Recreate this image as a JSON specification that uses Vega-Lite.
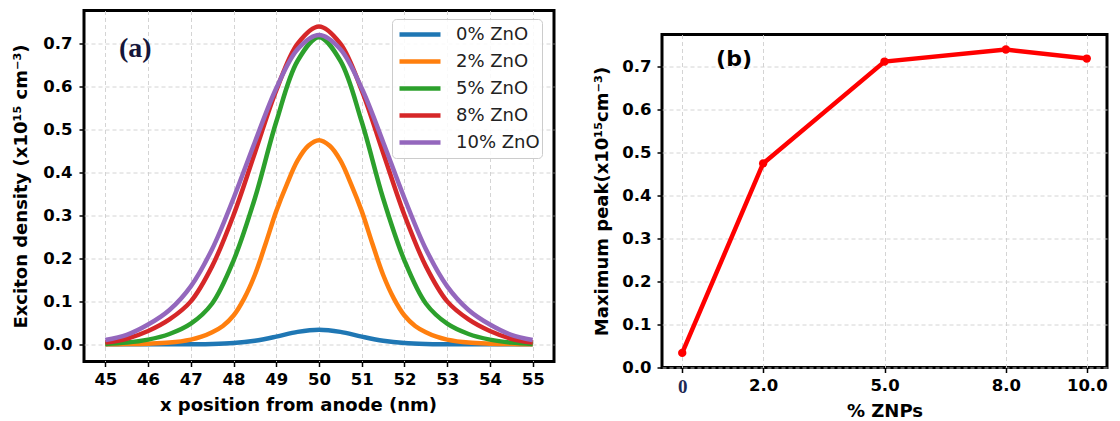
{
  "$schema": "https://vega.github.io/schema/vega-lite/v6.json",
  "background": "white",
  "padding": {"left": 11, "top": 8.5, "right": 10, "bottom": 5},
  "spacing": 36,
  "config": {
    "font": "DejaVu Sans",
    "view": {"stroke": "black", "strokeWidth": 3},
    "axis": {
      "domain": false,
      "ticks": true,
      "tickColor": "black",
      "tickWidth": 1.5,
      "tickSize": 5,
      "labelFont": "DejaVu Sans",
      "labelFontWeight": "bold",
      "labelFontSize": 16.5,
      "labelColor": "black",
      "labelPadding": 5,
      "labelFlush": false,
      "labelOverlap": false,
      "titleFont": "DejaVu Sans",
      "titleFontWeight": "bold",
      "titleFontSize": 18,
      "titleColor": "black",
      "grid": true,
      "gridColor": "#cfcfcf",
      "gridDash": [4, 3],
      "gridWidth": 0.9
    }
  },
  "datasets": {
    "profiles": [
      {"x": 45, "s": "0% ZnO", "y": 0}, {"x": 45.5, "s": "0% ZnO", "y": 0}, {"x": 46, "s": "0% ZnO", "y": 0}, {"x": 46.5, "s": "0% ZnO", "y": 0},
      {"x": 47, "s": "0% ZnO", "y": 0.0002}, {"x": 47.5, "s": "0% ZnO", "y": 0.0008}, {"x": 48, "s": "0% ZnO", "y": 0.003}, {"x": 48.5, "s": "0% ZnO", "y": 0.0085},
      {"x": 49, "s": "0% ZnO", "y": 0.018}, {"x": 49.5, "s": "0% ZnO", "y": 0.029}, {"x": 50, "s": "0% ZnO", "y": 0.034}, {"x": 50.5, "s": "0% ZnO", "y": 0.029},
      {"x": 51, "s": "0% ZnO", "y": 0.018}, {"x": 51.5, "s": "0% ZnO", "y": 0.0085}, {"x": 52, "s": "0% ZnO", "y": 0.003}, {"x": 52.5, "s": "0% ZnO", "y": 0.0008},
      {"x": 53, "s": "0% ZnO", "y": 0.0002}, {"x": 53.5, "s": "0% ZnO", "y": 0}, {"x": 54, "s": "0% ZnO", "y": 0}, {"x": 54.5, "s": "0% ZnO", "y": 0}, {"x": 55, "s": "0% ZnO", "y": 0},

      {"x": 45, "s": "2% ZnO", "y": 0.0001}, {"x": 45.5, "s": "2% ZnO", "y": 0.0005}, {"x": 46, "s": "2% ZnO", "y": 0.0015}, {"x": 46.5, "s": "2% ZnO", "y": 0.004},
      {"x": 47, "s": "2% ZnO", "y": 0.011}, {"x": 47.25, "s": "2% ZnO", "y": 0.0177}, {"x": 47.5, "s": "2% ZnO", "y": 0.028}, {"x": 47.75, "s": "2% ZnO", "y": 0.0427},
      {"x": 48, "s": "2% ZnO", "y": 0.067}, {"x": 48.25, "s": "2% ZnO", "y": 0.107}, {"x": 48.5, "s": "2% ZnO", "y": 0.162}, {"x": 48.75, "s": "2% ZnO", "y": 0.234},
      {"x": 49, "s": "2% ZnO", "y": 0.31}, {"x": 49.25, "s": "2% ZnO", "y": 0.373}, {"x": 49.5, "s": "2% ZnO", "y": 0.428}, {"x": 49.75, "s": "2% ZnO", "y": 0.462},
      {"x": 50, "s": "2% ZnO", "y": 0.475},
      {"x": 50.25, "s": "2% ZnO", "y": 0.462}, {"x": 50.5, "s": "2% ZnO", "y": 0.428}, {"x": 50.75, "s": "2% ZnO", "y": 0.373}, {"x": 51, "s": "2% ZnO", "y": 0.31},
      {"x": 51.25, "s": "2% ZnO", "y": 0.234}, {"x": 51.5, "s": "2% ZnO", "y": 0.162}, {"x": 51.75, "s": "2% ZnO", "y": 0.107}, {"x": 52, "s": "2% ZnO", "y": 0.067},
      {"x": 52.25, "s": "2% ZnO", "y": 0.0427}, {"x": 52.5, "s": "2% ZnO", "y": 0.028}, {"x": 52.75, "s": "2% ZnO", "y": 0.0177}, {"x": 53, "s": "2% ZnO", "y": 0.011},
      {"x": 53.5, "s": "2% ZnO", "y": 0.004}, {"x": 54, "s": "2% ZnO", "y": 0.0015}, {"x": 54.5, "s": "2% ZnO", "y": 0.0005}, {"x": 55, "s": "2% ZnO", "y": 0.0001},

      {"x": 45, "s": "5% ZnO", "y": 0.001}, {"x": 45.5, "s": "5% ZnO", "y": 0.004}, {"x": 46, "s": "5% ZnO", "y": 0.011}, {"x": 46.5, "s": "5% ZnO", "y": 0.024},
      {"x": 47, "s": "5% ZnO", "y": 0.048}, {"x": 47.5, "s": "5% ZnO", "y": 0.095}, {"x": 48, "s": "5% ZnO", "y": 0.195}, {"x": 48.5, "s": "5% ZnO", "y": 0.34},
      {"x": 49, "s": "5% ZnO", "y": 0.518}, {"x": 49.5, "s": "5% ZnO", "y": 0.66}, {"x": 50, "s": "5% ZnO", "y": 0.715}, {"x": 50.5, "s": "5% ZnO", "y": 0.66},
      {"x": 51, "s": "5% ZnO", "y": 0.518}, {"x": 51.5, "s": "5% ZnO", "y": 0.34}, {"x": 52, "s": "5% ZnO", "y": 0.195}, {"x": 52.5, "s": "5% ZnO", "y": 0.095},
      {"x": 53, "s": "5% ZnO", "y": 0.048}, {"x": 53.5, "s": "5% ZnO", "y": 0.024}, {"x": 54, "s": "5% ZnO", "y": 0.011}, {"x": 54.5, "s": "5% ZnO", "y": 0.004}, {"x": 55, "s": "5% ZnO", "y": 0.001},

      {"x": 45, "s": "8% ZnO", "y": 0.004}, {"x": 45.5, "s": "8% ZnO", "y": 0.013}, {"x": 46, "s": "8% ZnO", "y": 0.031}, {"x": 46.5, "s": "8% ZnO", "y": 0.058},
      {"x": 47, "s": "8% ZnO", "y": 0.1}, {"x": 47.5, "s": "8% ZnO", "y": 0.182}, {"x": 48, "s": "8% ZnO", "y": 0.301}, {"x": 48.5, "s": "8% ZnO", "y": 0.446},
      {"x": 49, "s": "8% ZnO", "y": 0.591}, {"x": 49.5, "s": "8% ZnO", "y": 0.7}, {"x": 50, "s": "8% ZnO", "y": 0.74}, {"x": 50.5, "s": "8% ZnO", "y": 0.7},
      {"x": 51, "s": "8% ZnO", "y": 0.591}, {"x": 51.5, "s": "8% ZnO", "y": 0.446}, {"x": 52, "s": "8% ZnO", "y": 0.301}, {"x": 52.5, "s": "8% ZnO", "y": 0.182},
      {"x": 53, "s": "8% ZnO", "y": 0.1}, {"x": 53.5, "s": "8% ZnO", "y": 0.058}, {"x": 54, "s": "8% ZnO", "y": 0.031}, {"x": 54.5, "s": "8% ZnO", "y": 0.013}, {"x": 55, "s": "8% ZnO", "y": 0.004},

      {"x": 45, "s": "10% ZnO", "y": 0.01}, {"x": 45.5, "s": "10% ZnO", "y": 0.022}, {"x": 46, "s": "10% ZnO", "y": 0.046}, {"x": 46.5, "s": "10% ZnO", "y": 0.08},
      {"x": 47, "s": "10% ZnO", "y": 0.135}, {"x": 47.5, "s": "10% ZnO", "y": 0.222}, {"x": 48, "s": "10% ZnO", "y": 0.34}, {"x": 48.5, "s": "10% ZnO", "y": 0.471},
      {"x": 49, "s": "10% ZnO", "y": 0.596}, {"x": 49.5, "s": "10% ZnO", "y": 0.687}, {"x": 50, "s": "10% ZnO", "y": 0.72}, {"x": 50.5, "s": "10% ZnO", "y": 0.687},
      {"x": 51, "s": "10% ZnO", "y": 0.596}, {"x": 51.5, "s": "10% ZnO", "y": 0.471}, {"x": 52, "s": "10% ZnO", "y": 0.34}, {"x": 52.5, "s": "10% ZnO", "y": 0.222},
      {"x": 53, "s": "10% ZnO", "y": 0.135}, {"x": 53.5, "s": "10% ZnO", "y": 0.08}, {"x": 54, "s": "10% ZnO", "y": 0.046}, {"x": 54.5, "s": "10% ZnO", "y": 0.022}, {"x": 55, "s": "10% ZnO", "y": 0.01}
    ],
    "peaks": [
      {"zno": 0, "peak": 0.034},
      {"zno": 2, "peak": 0.475},
      {"zno": 5, "peak": 0.712},
      {"zno": 8, "peak": 0.74},
      {"zno": 10, "peak": 0.719}
    ],
    "tagA": [{"x": 45.7, "y": 0.688, "t": "(a)"}],
    "tagB": [{"zno": 1.28, "peak": 0.719, "t": "(b)"}]
  },
  "hconcat": [
    {
      "width": 470,
      "height": 351,
      "layer": [
        {
          "data": {"name": "profiles"},
          "mark": {"type": "line", "strokeWidth": 4.5, "interpolate": "catmull-rom"},
          "encoding": {
            "x": {
              "field": "x", "type": "quantitative",
              "scale": {"domain": [44.5, 55.5], "nice": false, "zero": false},
              "axis": {
                "values": [45, 46, 47, 48, 49, 50, 51, 52, 53, 54, 55],
                "title": "x position from anode (nm)",
                "titleX": 214,
                "titlePadding": 8
              }
            },
            "y": {
              "field": "y", "type": "quantitative",
              "scale": {"domain": [-0.04, 0.777], "nice": false, "zero": false},
              "axis": {
                "values": [0, 0.1, 0.2, 0.3, 0.4, 0.5, 0.6, 0.7],
                "format": ".1f",
                "title": "Exciton density (x10¹⁵ cm⁻³)",
                "labelPadding": 7,
                "titlePadding": 12
              }
            },
            "color": {
              "field": "s", "type": "nominal",
              "scale": {
                "domain": ["0% ZnO", "2% ZnO", "5% ZnO", "8% ZnO", "10% ZnO"],
                "range": ["#1f77b4", "#ff7f0e", "#2ca02c", "#d62728", "#9467bd"]
              },
              "legend": {
                "title": null,
                "orient": "none",
                "legendX": 308,
                "legendY": 8.5,
                "symbolType": "stroke",
                "symbolSize": 1681,
                "symbolStrokeWidth": 4.5,
                "symbolOffset": 3,
                "clipHeight": 27,
                "labelFont": "DejaVu Sans",
                "labelFontSize": 18,
                "labelColor": "#222222",
                "labelOffset": 13,
                "labelLimit": 300,
                "rowPadding": 0,
                "padding": 2,
                "fillColor": "rgba(255,255,255,0.85)",
                "strokeColor": "#cccccc",
                "cornerRadius": 4
              }
            }
          }
        },
        {
          "data": {"name": "tagA"},
          "mark": {"type": "text", "font": "Liberation Serif", "fontWeight": "bold", "fontSize": 28, "color": "#15163a"},
          "encoding": {
            "x": {"field": "x", "type": "quantitative"},
            "y": {"field": "y", "type": "quantitative"},
            "text": {"field": "t"}
          }
        }
      ]
    },
    {
      "spacing": 20,
      "vconcat": [
        {
          "width": 445,
          "height": 2,
          "view": {"stroke": null},
          "data": {"values": []},
          "mark": {"type": "point", "opacity": 0}
        },
        {
          "width": 445,
          "height": 333,
          "layer": [
            {
              "data": {"name": "peaks"},
              "mark": {
                "type": "line", "color": "#ff0000", "strokeWidth": 4.5,
                "point": {"filled": true, "size": 70, "color": "#ff0000"}
              },
              "encoding": {
                "x": {
                  "field": "zno", "type": "quantitative",
                  "scale": {"domain": [-0.5, 10.5], "nice": false, "zero": false},
                  "axis": {
                    "values": [0, 2, 5, 8, 10],
                    "labelExpr": "datum.value == 0 ? '0' : format(datum.value, '.1f')",
                    "labelFont": {"condition": {"test": "datum.value == 0", "value": "Liberation Serif"}, "value": "DejaVu Sans"},
                    "labelFontSize": {"condition": {"test": "datum.value == 0", "value": 19}, "value": 16.5},
                    "labelColor": {"condition": {"test": "datum.value == 0", "value": "#1c2a55"}, "value": "black"},
                    "title": "% ZNPs",
                    "titlePadding": 6
                  }
                },
                "y": {
                  "field": "peak", "type": "quantitative",
                  "scale": {"domain": [0, 0.775], "nice": false},
                  "axis": {
                    "values": [0, 0.1, 0.2, 0.3, 0.4, 0.5, 0.6, 0.7],
                    "format": ".1f",
                    "title": "Maximum peak(x10¹⁵cm⁻³)",
                    "labelPadding": 6,
                    "titlePadding": 10
                  }
                }
              }
            },
            {
              "data": {"name": "tagB"},
              "mark": {"type": "text", "font": "DejaVu Sans", "fontWeight": "bold", "fontSize": 22, "color": "black"},
              "encoding": {
                "x": {"field": "zno", "type": "quantitative"},
                "y": {"field": "peak", "type": "quantitative"},
                "text": {"field": "t"}
              }
            }
          ]
        }
      ]
    }
  ]
}
